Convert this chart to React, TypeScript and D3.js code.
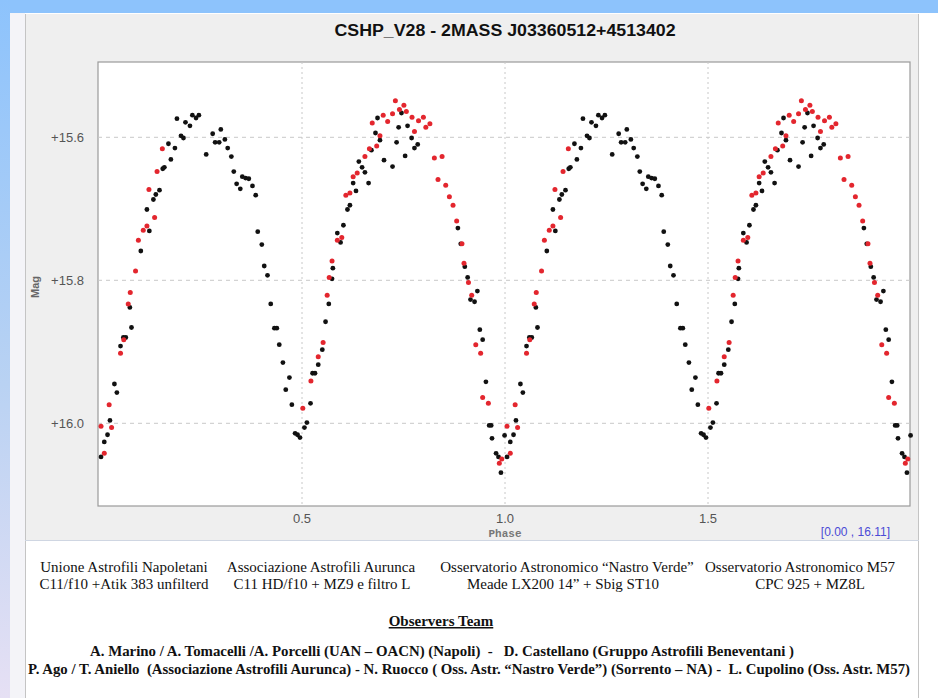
import React from "react";
import * as d3 from "d3";

// Phase-folded light curve, one cycle (phase 0..1), [phase, magnitude]
const blackPoints: [number, number][] = [
  [0.005, 16.047], [0.013, 16.026], [0.021, 16.016], [0.027, 15.996], [0.038, 15.945],
  [0.044, 15.957], [0.053, 15.892], [0.060, 15.880], [0.066, 15.880], [0.076, 15.838],
  [0.080, 15.866], [0.103, 15.759], [0.118, 15.701], [0.124, 15.731], [0.134, 15.687],
  [0.140, 15.680], [0.149, 15.674], [0.157, 15.644], [0.161, 15.642], [0.171, 15.609],
  [0.177, 15.631], [0.187, 15.615], [0.192, 15.574], [0.202, 15.598], [0.208, 15.601],
  [0.213, 15.579], [0.224, 15.584], [0.230, 15.569], [0.239, 15.573], [0.246, 15.569],
  [0.264, 15.624], [0.280, 15.595], [0.286, 15.607], [0.296, 15.607], [0.300, 15.589],
  [0.310, 15.603], [0.317, 15.615], [0.326, 15.627], [0.332, 15.648], [0.339, 15.665],
  [0.348, 15.672], [0.353, 15.655], [0.361, 15.657], [0.369, 15.658], [0.378, 15.668],
  [0.386, 15.681], [0.391, 15.732], [0.401, 15.750], [0.407, 15.780], [0.415, 15.793],
  [0.423, 15.833], [0.432, 15.867], [0.438, 15.867], [0.444, 15.890], [0.453, 15.915],
  [0.460, 15.953], [0.469, 15.936], [0.475, 15.974], [0.483, 16.014], [0.489, 16.016],
  [0.495, 16.020], [0.506, 16.006], [0.512, 15.999], [0.521, 15.972], [0.526, 15.930],
  [0.532, 15.930], [0.540, 15.918], [0.550, 15.897], [0.558, 15.858], [0.566, 15.833],
  [0.574, 15.798], [0.576, 15.783], [0.587, 15.734], [0.595, 15.747], [0.602, 15.723],
  [0.612, 15.701], [0.618, 15.695], [0.626, 15.664], [0.633, 15.675], [0.640, 15.634],
  [0.648, 15.642], [0.655, 15.649], [0.664, 15.664], [0.671, 15.618], [0.681, 15.594],
  [0.686, 15.573], [0.692, 15.604], [0.702, 15.632], [0.723, 15.641], [0.733, 15.607],
  [0.738, 15.586], [0.745, 15.566], [0.754, 15.626], [0.760, 15.584], [0.770, 15.601],
  [0.777, 15.615], [0.785, 15.610], [0.884, 15.727], [0.891, 15.749], [0.901, 15.781],
  [0.908, 15.796], [0.915, 15.827], [0.925, 15.830], [0.932, 15.815], [0.938, 15.869],
  [0.945, 15.883], [0.953, 15.942], [0.961, 16.003], [0.966, 16.003], [0.968, 16.021],
  [0.978, 16.042], [0.984, 16.047], [0.990, 16.069], [0.999, 16.017],
];

const redPoints: [number, number][] = [
  [0.005, 16.004], [0.013, 16.042], [0.025, 15.974], [0.031, 16.006], [0.053, 15.902],
  [0.061, 15.883], [0.072, 15.833], [0.077, 15.817], [0.090, 15.787], [0.097, 15.744],
  [0.109, 15.730], [0.118, 15.724], [0.123, 15.673], [0.137, 15.712], [0.143, 15.648],
  [0.156, 15.616], [0.502, 15.979], [0.522, 15.941], [0.540, 15.907], [0.552, 15.887],
  [0.562, 15.821], [0.567, 15.796], [0.574, 15.773], [0.587, 15.744], [0.598, 15.740],
  [0.608, 15.681], [0.618, 15.678], [0.626, 15.655], [0.636, 15.650], [0.655, 15.627],
  [0.666, 15.616], [0.673, 15.580], [0.684, 15.612], [0.692, 15.598], [0.700, 15.569],
  [0.711, 15.578], [0.723, 15.567], [0.730, 15.549], [0.740, 15.561], [0.751, 15.555],
  [0.757, 15.564], [0.771, 15.572], [0.777, 15.592], [0.787, 15.577], [0.799, 15.572],
  [0.805, 15.586], [0.815, 15.581], [0.826, 15.629], [0.835, 15.659], [0.845, 15.627],
  [0.854, 15.667], [0.863, 15.683], [0.872, 15.695], [0.881, 15.717], [0.894, 15.749],
  [0.899, 15.776], [0.910, 15.803], [0.918, 15.821], [0.928, 15.890], [0.940, 15.902],
  [0.945, 15.964], [0.959, 15.972], [0.986, 16.056], [0.992, 16.050],
];

const cycleOffsets = [0, 1];
const xTicks = [0.5, 1.0, 1.5];
const yTicks = [15.6, 15.8, 16.0];
const titleText = "CSHP_V28 - 2MASS J03360512+4513402";
const rangeLabel = "[0.00 , 16.11]";

const observatories = [
  { name: "Unione Astrofili Napoletani", setup: "C11/f10 +Atik 383 unfilterd", cx: 124, cx2: 124 },
  { name: "Associazione Astrofili Aurunca", setup: "C11 HD/f10 + MZ9 e filtro L", cx: 321, cx2: 322 },
  { name: "Osservatorio Astronomico \u201CNastro Verde\u201D", setup: "Meade LX200 14\u201D + Sbig ST10", cx: 567, cx2: 563 },
  { name: "Osservatorio Astronomico M57", setup: "CPC 925 + MZ8L", cx: 800, cx2: 810 },
];
const teamTitle = "Observers Team";
const teamLines = [
  "A. Marino / A. Tomacelli /A. Porcelli (UAN \u2013 OACN) (Napoli)  -   D. Castellano (Gruppo Astrofili Beneventani )",
  "P. Ago / T. Aniello  (Associazione Astrofili Aurunca) - N. Ruocco ( Oss. Astr. \u201CNastro Verde\u201D) (Sorrento \u2013 NA) -  L. Cupolino (Oss. Astr. M57)",
];

const W = 938;
const H = 698;
const plot = { left: 98, right: 910, top: 62, bottom: 506 };

export default function App() {
  const x = d3.scaleLinear().domain([0, 2]).range([99, 911]);
  const y = d3.scaleLinear().domain([15.6, 16.0]).range([137.3, 423.3]);

  const expand = (pts: [number, number][]) =>
    cycleOffsets.flatMap((o) => pts.map(([p, m]) => [p + o, m] as [number, number])).filter(([p]) => p >= 0 && p <= 2);

  const black = expand(blackPoints);
  const red = expand(redPoints);
  const sans = "'Liberation Sans', Arial, sans-serif";
  const serif = "'Liberation Serif', 'Times New Roman', serif";

  return (
    <div style={{ position: "absolute", left: 0, top: 0, width: W, height: H }}>
      <svg width={W} height={H} style={{ display: "block" }}>
        <defs>
          <linearGradient id="leftStrip" x1="0" y1="0" x2="0" y2="1">
            <stop offset="0" stopColor="#8dc3fc" />
            <stop offset="0.55" stopColor="#b9d2f3" />
            <stop offset="1" stopColor="#e6e0f4" />
          </linearGradient>
        </defs>
        <rect x={0} y={0} width={W} height={H} fill="#ffffff" />
        <rect x={0} y={0} width={W} height={13} fill="#8dc3fc" />
        <rect x={0} y={0} width={10} height={H} fill="url(#leftStrip)" />
        <rect x={10} y={13} width={15} height={H - 13} fill="#f4f4f8" />

        {/* gray chart panel */}
        <rect x={25} y={14} width={894} height={526} fill="#efefef" />
        <line x1={25.5} y1={14} x2={25.5} y2={H} stroke="#c4c4c4" />
        <line x1={918.5} y1={14} x2={918.5} y2={H} stroke="#c4c4c4" />
        <line x1={25} y1={540.5} x2={919} y2={540.5} stroke="#cfd6e2" />

        <text x={505} y={36} textAnchor="middle" fontFamily={sans} fontWeight="bold" fontSize={16}
          textLength={341} lengthAdjust="spacingAndGlyphs" fill="#111">{titleText}</text>

        {/* plot area */}
        <rect x={plot.left} y={plot.top} width={plot.right - plot.left} height={plot.bottom - plot.top}
          fill="#ffffff" stroke="#9a9a9a" strokeWidth={1.2} />
        {yTicks.map((t) => (
          <line key={"gy" + t} x1={plot.left} x2={plot.right} y1={y(t)} y2={y(t)}
            stroke="#c8c8c8" strokeDasharray="4,4" />
        ))}
        {xTicks.map((t) => (
          <line key={"gx" + t} x1={x(t)} x2={x(t)} y1={plot.top} y2={plot.bottom}
            stroke="#c8c8c8" strokeDasharray="2,3" />
        ))}
        {yTicks.map((t) => (
          <text key={"ty" + t} x={84} y={y(t) + 4.5} textAnchor="end" fontFamily={sans} fontSize={13} fill="#555">
            {"+" + d3.format(".1f")(t)}
          </text>
        ))}
        {xTicks.map((t) => (
          <text key={"tx" + t} x={x(t)} y={523} textAnchor="middle" fontFamily={sans} fontSize={13} fill="#555">
            {d3.format(".1f")(t)}
          </text>
        ))}
        <text x={505} y={537} textAnchor="middle" fontFamily="'Liberation Mono', monospace" fontWeight="bold"
          fontSize={11} fill="#777">Phase</text>
        <text transform="translate(39,287) rotate(-90)" textAnchor="middle" fontFamily={sans} fontSize={11}
          fontWeight="bold" fill="#666">Mag</text>
        <text x={890} y={536} textAnchor="end" fontFamily={sans} fontSize={12} fill="#4a4ad6">{rangeLabel}</text>

        {black.map(([p, m], i) => (
          <circle key={"b" + i} cx={x(p)} cy={y(m)} r={2.4} fill="#111" />
        ))}
        {red.map(([p, m], i) => (
          <circle key={"r" + i} cx={x(p)} cy={y(m)} r={2.5} fill="#e3262e" />
        ))}

        {/* caption */}
        {observatories.map((o) => (
          <g key={o.name} fontFamily={serif} fontSize={15} fill="#111">
            <text x={o.cx} y={572} textAnchor="middle">{o.name}</text>
            <text x={o.cx2} y={589} textAnchor="middle">{o.setup}</text>
          </g>
        ))}
        <text x={441} y={626} textAnchor="middle" fontFamily={serif} fontSize={15} fontWeight="bold"
          textDecoration="underline" fill="#111">{teamTitle}</text>
        <text x={90} y={656} fontFamily={serif} fontSize={14} fontWeight="bold" fill="#111"
          textLength={704} lengthAdjust="spacingAndGlyphs" style={{ whiteSpace: "pre" }}>{teamLines[0]}</text>
        <text x={28} y={674} fontFamily={serif} fontSize={14} fontWeight="bold" fill="#111"
          textLength={882} lengthAdjust="spacingAndGlyphs" style={{ whiteSpace: "pre" }}>{teamLines[1]}</text>
      </svg>
    </div>
  );
}
